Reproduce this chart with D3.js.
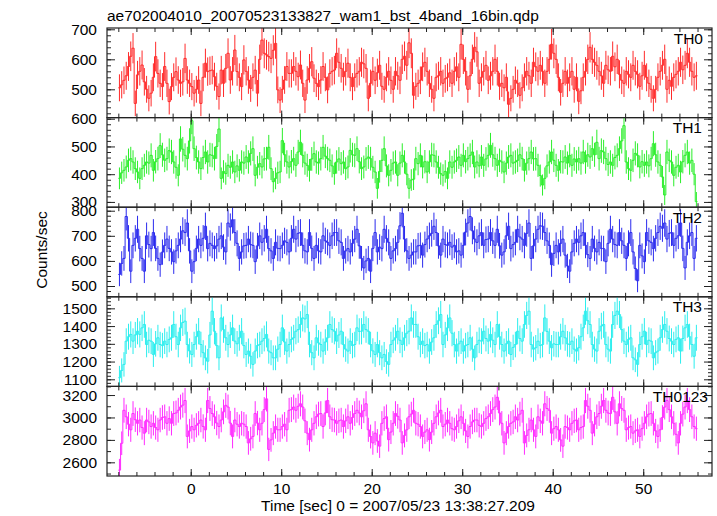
<!DOCTYPE html>
<html><head><meta charset="utf-8">
<script src="https://cdn.jsdelivr.net/npm/d3@7"></script>
<style>
html,body{margin:0;padding:0;background:#fff;}
text{font-family:"Liberation Sans",Arial,Helvetica,sans-serif;}
</style></head>
<body>
<svg id="chart" width="717" height="516"></svg>
<script>
// ---------- DATA ----------
const TITLE = "ae702004010_20070523133827_wam1_bst_4band_16bin.qdp";
const X_LABEL = "Time [sec] 0 = 2007/05/23 13:38:27.209";
const Y_LABEL = "Counts/sec";
const BIN_SEC = 0.25;      // bin width (s)
const T_START = -8;        // start of first bin (s)
const X_TICKS = [0, 10, 20, 30, 40, 50];
const SERIES_NAMES = ["TH0", "TH1", "TH2", "TH3", "TH0123"];

const TH0 = [
505,515,530,545,576,610,637,453,548,560,
581,525,500,470,487,540,609,553,520,509,
576,520,459,509,540,559,531,520,525,603,
531,520,509,487,500,531,453,540,587,559,
562,564,542,510,476,564,520,570,620,531,
560,631,559,540,509,598,560,531,503,540,
564,487,600,664,620,615,609,603,630,653,
498,464,500,531,576,553,553,576,560,542,
581,520,464,531,570,592,537,520,509,531,
576,540,498,553,560,564,620,590,570,542,
560,587,540,509,540,553,560,
590,585,570, 470,520,560, 530,555,580, 510,500,540, 560,530,500, 560,545,530, 600,610,580, 655,620,480, 510,520,530, 575,590,560,
520,500,470, 540,545,560, 520,535, 540,555,520, 560,575,540, 650,600,560, 500,545,600, 640,625,520, 540,560,580, 530,545,560,
600,560,510, 520,505,540, 450,470,500, 530,520, 480,505,540, 560,545,520, 590,575,560, 580,560,520, 560,600,650, 620,600,540,
490,520,560, 520,540,560, 500,540, 460,495,540, 560,600,640, 600,590,580, 560,545,520, 580,565,560, 610,575,600, 550,530,520,
560,550,540, 580,560,550, 510,545,580, 540,520,500, 470,500,540, 560,580,600, 500,530,510, 540,550,560, 590,565,580, 620,590,560,
540,545
];
const TH1 = [
385,405,414, 426,450,456, 444,420,408, 385,420,432, 444,440,468, 414,445,456, 503,470,450, 456,485,480, 444,425,396, 527,490,468,
456,520,593, 492,460,444, 420,460,480, 444,470,468, 456,500,563, 385,410,402, 432,425,444, 408,430,414, 444,440,462, 444,475,492,
396,425,438, 426,455,456, 497,420,373, 385,405,408, 521,470,444, 426,445,456, 432,480,515, 468,440,432, 414,455,474, 444,440,456,
497,465,456, 450,430,402, 444,455,438, 444,420,426, 486,470,468, 492,445,420, 426,455,462, 456,425,408, 349,410,450, 492,430,396,
414,440,444, 396,440,468, 444,400,349, 379,382,
456,438,468, 426,445,408, 444,470,468, 444,425,402, 396,410,385, 444,425,444, 450,462,432, 468,445,456, 468,480,426, 444,430,462,
432,455,468, 504,470,456, 432,450,444, 408,440,462, 468,440,444, 450,470,456, 414,440,456, 480,455,456, 432,395,361, 385,430,444,
480,450,432, 414,445,444, 462,440,468, 432,455,444, 456,440,480, 444,470,462, 492,470,515, 456,485,480, 456,435,444, 432,460,468,
492,520,575, 444,420,414, 450,475,468, 426,445,432, 444,430,456, 510,470,444, 432,390,325, 480,450,444, 396,425,432, 408,445,468,
480,440,450, 400,301
];
const TH2 = [
546,590,610, 777,690,559, 662,690,726, 649,610,559, 700,665,649, 713,650,610, 585,635,662, 687,650,636, 597,640,662, 687,720,713,
751,640,559, 597,650,687, 662,690,738, 649,670,662, 649,660,687, 700,655,636, 751,735,764, 713,670,610, 636,660,662, 687,665,662,
597,660,700, 674,690,726, 649,640,610, 674,650,649, 662,680,674, 636,690,726, 687,710,713, 662,640,636, 713,650,610, 662,640,636,
700,680,674, 662,700,713, 713,680,674, 610,640,649, 636,670,687, 726,660,610, 572,600,610, 559,650,713, 636,655,649, 726,690,674,
610,640,649, 674,740,790, 687,640,610, 623,636,
636,660,662, 623,665,687, 700,710,738, 713,660,623, 687,665,662, 674,655,662, 636,640,623, 662,715,751, 777,720,687, 674,700,713,
662,685,687, 713,680,662, 726,660,623, 636,700,738, 649,665,674, 726,695,687, 662,710,751, 610,660,687, 726,740,738, 713,680,662,
585,630,662, 636,670,687, 623,580,559, 636,670,687, 674,700,713, 662,625,610, 687,650,636, 674,650,649, 597,670,726, 687,665,662,
713,680,662, 610,670,713, 636,570,521, 662,620,597, 713,680,674, 649,690,713, 738,730,751, 687,710,713, 662,690,700, 751,650,572,
674,700,713, 610,690
];
const TH3 = [
1109,1150,1184, 1315,1340,1353, 1315,1350,1371, 1353,1390,1409, 1296,1320,1315, 1240,1300,1334, 1296,1290,1315, 1296,1325,1334, 1409,1340,1296, 1390,1420,1428,
1296,1260,1240, 1296,1340,1371, 1296,1250,1221, 1202,1350,1484, 1371,1290,1221, 1446,1380,1334, 1296,1350,1390, 1315,1300,1334, 1371,1290,1240, 1259,1230,1184,
1259,1290,1296, 1315,1330,1353, 1259,1250,1221, 1221,1270,1296, 1390,1310,1259, 1296,1325,1334, 1371,1380,1409, 1446,1440,1465, 1296,1250,1221, 1334,1305,1296,
1259,1310,1334, 1409,1380,1371, 1315,1350,1371, 1296,1270,1259, 1315,1290,1296, 1390,1370,1371, 1409,1380,1371, 1296,1260,1240, 1296,1250,1221, 1240,1200,1184,
1296,1320,1334, 1371,1320,1296, 1334,1360,1371, 1446,1409,
1409,1340,1296, 1315,1290,1296, 1259,1310,1334, 1409,1430,1465, 1296,1350,1390, 1446,1360,1296, 1259,1300,1315, 1259,1290,1296, 1334,1270,1221, 1296,1320,1315,
1371,1330,1315, 1353,1320,1296, 1409,1340,1296, 1259,1300,1315, 1240,1280,1296, 1371,1330,1315, 1409,1460,1484, 1296,1270,1278, 1315,1290,1296, 1446,1370,1315,
1278,1300,1296, 1296,1340,1371, 1334,1300,1296, 1315,1270,1259, 1278,1340,1390, 1484,1430,1409, 1296,1270,1259, 1371,1400,1409, 1296,1270,1259, 1409,1460,1484,
1465,1380,1315, 1296,1325,1334, 1221,1210,1184, 1296,1340,1371, 1296,1320,1315, 1221,1250,1259, 1334,1380,1409, 1371,1330,1315, 1296,1325,1334, 1259,1330,1390,
1409,1340,1296, 1230,1334
];
const TH0123 = [
2530,2770,3064,
3006,2940,2890, 3035,2980,2948, 2977,2910,2860, 2977,2960,2919, 2948,2910,2890, 2977,3000,3006, 2948,2990,2948, 3035,3040,3064, 3093,3110,3151, 2831,2880,2919,
2890,2930,2948, 2977,2920,2890, 3151,3080,3035, 3006,2950,2919, 2977,3050,3108, 3093,2950,2831, 2977,2940,2919, 2948,2940,2919, 2773,2810,2831, 3035,2950,2890,
2948,3070,3166, 2715,2800,2860, 2919,2890,2890, 2919,2940,2890, 3064,3070,3093, 3064,3100,3122, 3093,2970,2860, 2802,2890,2948, 3006,3030,3035, 2919,3040,3151,
3006,2980,2977, 2948,2970,2977, 2919,2970,3006, 2948,3000,3035, 3064,3040,
3006,3060,3122, 2890,2830,2773, 2860,2790,2744, 2948,2990,3006, 2802,2870,2948, 3035,3010,2977, 2773,2840,2890, 3006,3030,3064, 2948,2940,2919, 2831,2870,2890,
2802,2870,2948, 3006,3040,3064, 2919,2940,2977, 2948,2900,2890, 2919,2970,3006, 2948,2880,2831, 2919,2960,2977, 2977,2930,2919, 2948,2990,3006, 3035,3070,3093,
3180,3040,2948, 2773,2860,2919, 2948,2960,3006, 2977,3030,3064, 2773,2840,2890, 2977,2890,2831, 3006,2970,2948, 3122,3080,3064, 2860,2900,2919, 2890,2800,2744,
2919,2910,2890, 2948,2970,2977, 2890,2910,2919, 3151,3100,3064, 2860,2940,3006, 3035,3100,3151, 3064,3040,3035, 3180,3050,2948, 3122,3080,3064, 2890,2910,2919,
2860,2880,2890, 2831,2900,2948, 3006,3030,3035, 2948,2880,2831, 2890,3000,3093, 3151,3070,3006, 2948,2850,2773, 2948,3030,3093, 3151,3070,3006, 2919,2900
];
const TH0_TICKS = [500, 600, 700];
const TH1_TICKS = [300, 400, 500, 600];
const TH2_TICKS = [500, 600, 700, 800];
const TH3_TICKS = [1100, 1200, 1300, 1400, 1500];
const TH0123_TICKS = [2600, 2800, 3000, 3200];

// ---------- LAYOUT / STYLE ----------
const PL = 107, PR = 712, PT = 28, PB = 476;
const nP = 5, pH = (PB - PT) / nP;
const FONT = "15.5px";
const panels = [
  {name: SERIES_NAMES[0], data: TH0, ticks: TH0_TICKS, minor: 20, dom: [405.7, 704.3], color: "#ff2a2a", lx: 703},
  {name: SERIES_NAMES[1], data: TH1, ticks: TH1_TICKS, minor: 20, dom: [281, 604], color: "#2aee2a", lx: 702},
  {name: SERIES_NAMES[2], data: TH2, ticks: TH2_TICKS, minor: 20, dom: [457, 814], color: "#2a2aee", lx: 702},
  {name: SERIES_NAMES[3], data: TH3, ticks: TH3_TICKS, minor: 20, dom: [1060, 1565], color: "#2aeeee", lx: 702},
  {name: SERIES_NAMES[4], data: TH0123, ticks: TH0123_TICKS, minor: 100, dom: [2478, 3277], color: "#ff2aff", lx: 708}
];

const svg = d3.select("#chart");
const x = d3.scaleLinear().domain([-9.25, 57.6]).range([PL, PR]);
const xMinor = d3.range(-8, 57, 2);
const fmt = d3.format("d");

svg.append("text").attr("x", 107).attr("y", 21).attr("font-size", FONT).attr("fill", "#000").text(TITLE);

panels.forEach((p, k) => {
  const y0 = PT + k * pH, y1 = y0 + pH;
  const y = d3.scaleLinear().domain(p.dom).range([y1, y0]);
  const g = svg.append("g");
  const cid = "clip" + k;
  svg.append("clipPath").attr("id", cid).append("rect")
    .attr("x", PL).attr("y", y0).attr("width", PR - PL).attr("height", pH);

  const dg = g.append("g").attr("clip-path", `url(#${cid})`);
  const bins = p.data.map((v, i) => {
    const t = T_START + BIN_SEC * (i + 0.5);
    const err = Math.sqrt(v * BIN_SEC) / BIN_SEC; // Poisson error of the rate
    return {t, v, err};
  });
  dg.selectAll("line.eb").data(bins).enter().append("line")
    .attr("x1", d => x(d.t)).attr("x2", d => x(d.t))
    .attr("y1", d => y(d.v - d.err)).attr("y2", d => y(d.v + d.err))
    .attr("stroke", p.color).attr("stroke-width", 1);
  const pts = [];
  bins.forEach(d => { pts.push([d.t - BIN_SEC / 2, d.v]); pts.push([d.t + BIN_SEC / 2, d.v]); });
  dg.append("path").datum(pts)
    .attr("d", d3.line().x(d => x(d[0])).y(d => y(d[1])))
    .attr("fill", "none").attr("stroke", p.color).attr("stroke-width", 1);

  const minorVals = d3.range(Math.ceil(p.dom[0] / p.minor) * p.minor, p.dom[1], p.minor);
  const styleAxis = (sel) => { sel.select(".domain").remove(); sel.selectAll("line").attr("stroke", "#222"); };
  g.append("g").attr("transform", `translate(${PL},0)`)
    .call(d3.axisLeft(y).tickValues(minorVals).tickSizeInner(-4).tickSizeOuter(0).tickFormat("")).call(styleAxis);
  g.append("g").attr("transform", `translate(${PR},0)`)
    .call(d3.axisRight(y).tickValues(minorVals).tickSizeInner(-4).tickSizeOuter(0).tickFormat("")).call(styleAxis);
  const la = g.append("g").attr("transform", `translate(${PL},0)`)
    .call(d3.axisLeft(y).tickValues(p.ticks).tickSizeInner(-8).tickSizeOuter(0).tickPadding(10).tickFormat(fmt)).call(styleAxis);
  la.selectAll("text").attr("font-size", FONT).attr("fill", "#000")
    .attr("font-family", '"Liberation Sans",Arial,sans-serif');
  g.append("g").attr("transform", `translate(${PR},0)`)
    .call(d3.axisRight(y).tickValues(p.ticks).tickSizeInner(-8).tickSizeOuter(0).tickFormat("")).call(styleAxis);

  g.append("g").attr("transform", `translate(0,${y0})`)
    .call(d3.axisTop(x).tickValues(xMinor).tickSizeInner(-4).tickSizeOuter(0).tickFormat("")).call(styleAxis);
  g.append("g").attr("transform", `translate(0,${y0})`)
    .call(d3.axisTop(x).tickValues(X_TICKS).tickSizeInner(-7).tickSizeOuter(0).tickFormat("")).call(styleAxis);
  g.append("g").attr("transform", `translate(0,${y1})`)
    .call(d3.axisBottom(x).tickValues(xMinor).tickSizeInner(-4).tickSizeOuter(0).tickFormat("")).call(styleAxis);
  const ba = g.append("g").attr("transform", `translate(0,${y1})`)
    .call(d3.axisBottom(x).tickValues(X_TICKS).tickSizeInner(-7).tickSizeOuter(0).tickPadding(7)
      .tickFormat(k === nP - 1 ? fmt : "")).call(styleAxis);
  ba.selectAll("text").attr("font-size", FONT).attr("fill", "#000")
    .attr("font-family", '"Liberation Sans",Arial,sans-serif');

  g.append("rect").attr("x", PL).attr("y", y0).attr("width", PR - PL).attr("height", pH)
    .attr("fill", "none").attr("stroke", "#222").attr("stroke-width", 1.2);

  g.append("text").attr("x", p.lx).attr("y", y0 + 15.5).attr("text-anchor", "end")
    .attr("font-size", FONT).attr("fill", "#000").text(p.name);
});

svg.append("text").attr("transform", "translate(47,250) rotate(-90)").attr("text-anchor", "middle")
  .attr("font-size", FONT).attr("fill", "#000").text(Y_LABEL);
svg.append("text").attr("x", 398).attr("y", 511).attr("text-anchor", "middle")
  .attr("font-size", FONT).attr("fill", "#000").text(X_LABEL);
</script>
</body></html>
